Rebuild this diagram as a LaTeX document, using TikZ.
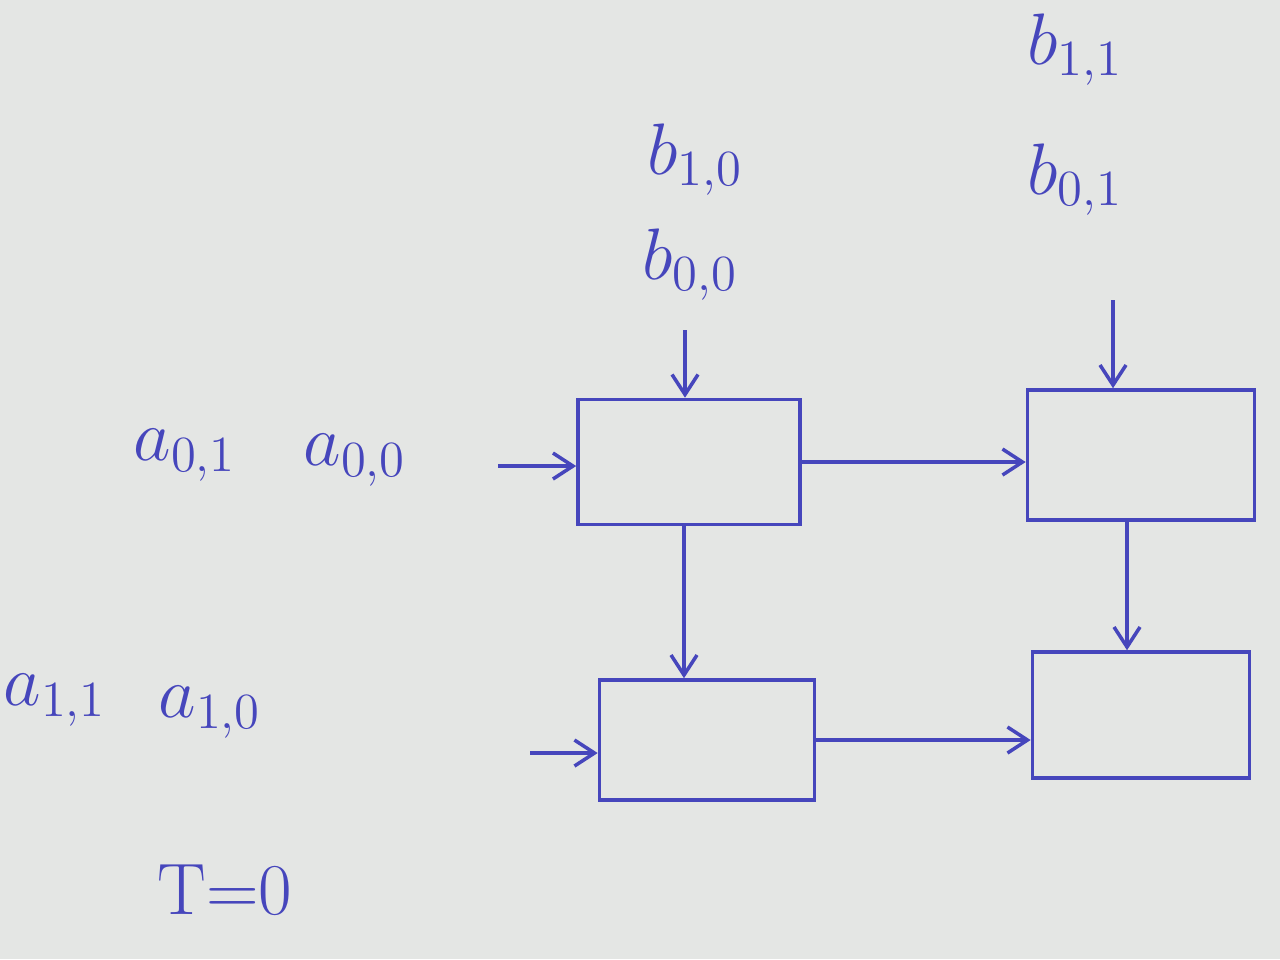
\documentclass[tikz,border=0pt]{standalone}
\usetikzlibrary{arrows.meta}
\definecolor{ink}{RGB}{70,70,188}
\definecolor{paper}{RGB}{228,230,228}
\tikzset{
  pe/.style={draw=ink, line width=1pt, inner sep=0pt},
  lbl/.style={text=ink, font=\huge},
  flow/.style={draw=ink, line width=1pt, -{Straight Barb[length=2mm,width=2.6mm]}}
}
\begin{document}
\begin{tikzpicture}[x=0.01cm,y=-0.01cm]
  \fill[paper] (0,0) rectangle (1280,959);
  \useasboundingbox (0,0) rectangle (1280,959);
  % processing elements
  \node[pe, minimum width=2.22cm, minimum height=1.25cm] (p00) at (689,462) {};
  \node[pe, minimum width=2.27cm, minimum height=1.30cm] (p01) at (1141,455) {};
  \node[pe, minimum width=2.15cm, minimum height=1.20cm] (p10) at (707,740) {};
  \node[pe, minimum width=2.17cm, minimum height=1.26cm] (p11) at (1141,715) {};
  % inputs
  \node[lbl] (b10) at (695,160) {$b_{1,0}$};
  \node[lbl] (b00) at (690,265) {$b_{0,0}$};
  \node[lbl] (b11) at (1075,50) {$b_{1,1}$};
  \node[lbl] (b01) at (1075,180) {$b_{0,1}$};
  \node[lbl] (a01) at (185,455) {$a_{0,1}$};
  \node[lbl] (a00) at (355,460) {$a_{0,0}$};
  \node[lbl] (a11) at (55,700) {$a_{1,1}$};
  \node[lbl] (a10) at (210,712) {$a_{1,0}$};
  \node[lbl] (time) at (225,890) {T=0};
  \coordinate (inb0) at (685,330);
  \coordinate (inb1) at (1113,300);
  \coordinate (ina0) at (498,466);
  \coordinate (ina1) at (530,753);
  % connections
  \draw[flow] (inb0) -- (inb0 |- p00.north);
  \draw[flow] (inb1) -- (inb1 |- p01.north);
  \draw[flow] (ina0) -- (ina0 -| p00.west);
  \draw[flow] (ina1) -- (ina1 -| p10.west);
  \draw[flow] (p00.east) -- (p00.east -| p01.west);
  \draw[flow] (p10.east) -- (p10.east -| p11.west);
  \draw[flow] ([xshift=-0.05cm]p00.south) -- ([xshift=-0.05cm]p00.south |- p10.north);
  \draw[flow] ([xshift=-0.14cm]p01.south) -- ([xshift=-0.14cm]p11.north);
\end{tikzpicture}
\end{document}
